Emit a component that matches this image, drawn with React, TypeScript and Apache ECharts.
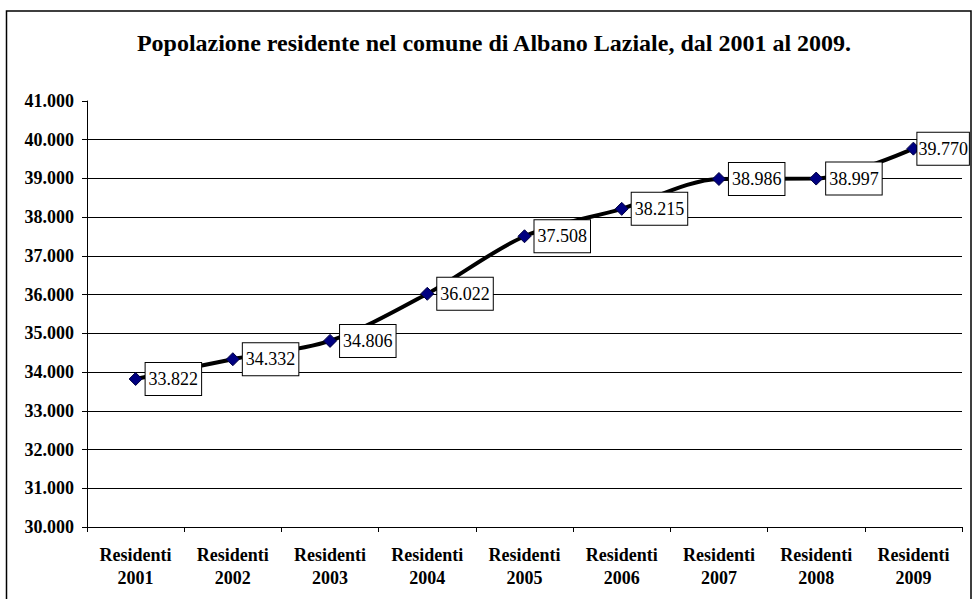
import React, { useEffect, useRef } from "react";
import * as echarts from "echarts";

const categories = [
  "Residenti\n2001",
  "Residenti\n2002",
  "Residenti\n2003",
  "Residenti\n2004",
  "Residenti\n2005",
  "Residenti\n2006",
  "Residenti\n2007",
  "Residenti\n2008",
  "Residenti\n2009",
];
const residents = [33822, 34332, 34806, 36022, 37508, 38215, 38986, 38997, 39770];
const titleText = "Popolazione residente nel comune di Albano Laziale, dal 2001 al 2009.";

const fmt = (v: number) => {
  const s = Math.round(v).toString();
  return s.replace(/\B(?=(\d{3})+(?!\d))/g, ".");
};

const FONT = '"Liberation Serif", "Times New Roman", serif';

export default function App() {
  const ref = useRef<HTMLDivElement>(null);
  useEffect(() => {
    document.body.style.margin = "0";
    const chart = echarts.init(ref.current!, null, { renderer: "svg" });
    const lastIdx = residents.length - 1;
    const seriesData = residents.map((v, i) =>
      i === lastIdx
        ? { value: v, label: { distance: -3, padding: [7, 1, 7, 1] } }
        : { value: v }
    );
    chart.setOption({
      animation: false,
      backgroundColor: "#ffffff",
      textStyle: { fontFamily: FONT },
      title: {
        text: titleText,
        left: 489,
        textAlign: "center",
        top: 26,
        textStyle: { fontFamily: FONT, fontWeight: "bold", fontSize: 24, color: "#000" },
      },
      graphic: [
        {
          type: "rect",
          shape: { x: 6.5, y: 11, width: 964.5, height: 600 },
          style: { fill: "none", stroke: "#000", lineWidth: 1.5 },
          silent: true,
        },
      ],
      grid: { left: 87, right: 11, top: 101, bottom: 72 },
      xAxis: {
        type: "category",
        data: categories,
        boundaryGap: true,
        axisLine: { lineStyle: { color: "#000", width: 1 } },
        axisTick: { show: true, length: 5, lineStyle: { color: "#000" } },
        axisLabel: {
          interval: 0,
          margin: 16,
          fontFamily: FONT,
          fontWeight: "bold",
          fontSize: 18,
          color: "#000",
          lineHeight: 23,
        },
      },
      yAxis: {
        type: "value",
        min: 30000,
        max: 41000,
        interval: 1000,
        axisLine: { show: true, lineStyle: { color: "#000", width: 1 } },
        axisTick: { show: true, length: 5, lineStyle: { color: "#000" } },
        splitLine: { show: true, showMaxLine: false, lineStyle: { color: "#000", width: 1 } },
        axisLabel: {
          margin: 13,
          fontFamily: FONT,
          fontWeight: "bold",
          fontSize: 18,
          color: "#000",
          formatter: (v: number) => fmt(v),
        },
      },
      series: [
        {
          type: "line",
          data: seriesData,
          smooth: 0.3,
          lineStyle: { color: "#000", width: 4 },
          symbol: "diamond",
          symbolSize: 13,
          itemStyle: { color: "#000080", borderColor: "#000040", borderWidth: 1 },
          z: 3,
          label: {
            show: true,
            position: "right",
            distance: 3,
            formatter: (p: any) => fmt(p.value),
            fontFamily: FONT,
            fontSize: 18,
            color: "#000",
            backgroundColor: "#fff",
            borderColor: "#000",
            borderWidth: 1,
            padding: [7, 3, 7, 3],
          },
        },
      ],
    });
    return () => chart.dispose();
  }, []);
  return <div ref={ref} style={{ width: 973, height: 599 }} />;
}
